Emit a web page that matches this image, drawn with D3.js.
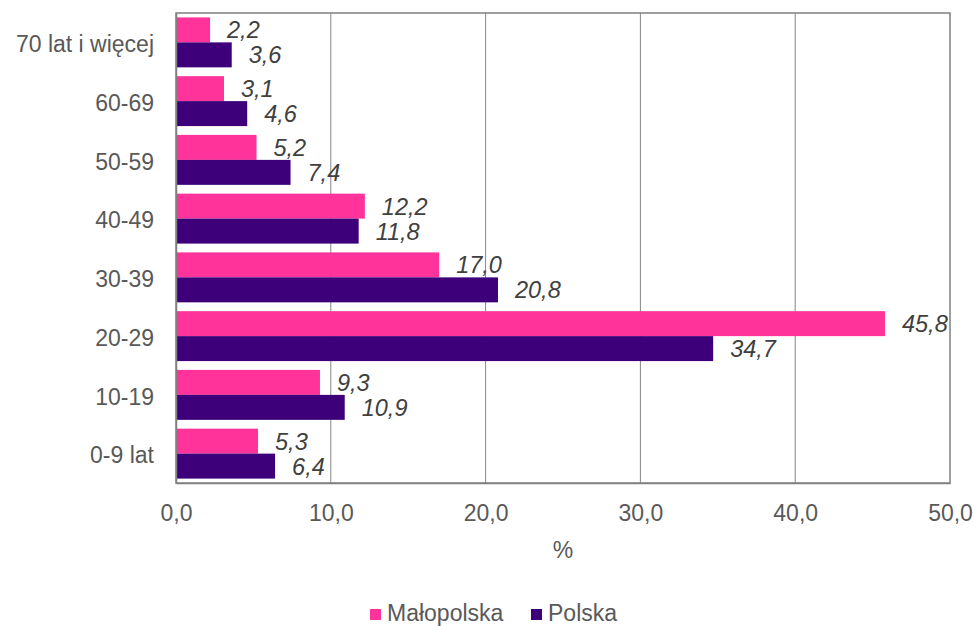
<!DOCTYPE html>
<html><head><meta charset="utf-8">
<script src="https://cdn.jsdelivr.net/npm/d3@7"></script>
<style>body{margin:0;background:#fff;font-family:"Liberation Sans",Arial,sans-serif;}</style>
</head><body>
<script>
const categories = ["70 lat i więcej","60-69","50-59","40-49","30-39","20-29","10-19","0-9 lat"];
const malopolska = [2.2,3.1,5.2,12.2,17.0,45.8,9.3,5.3];
const polska = [3.6,4.6,7.4,11.8,20.8,34.7,10.9,6.4];
const seriesNames = ["Małopolska","Polska"];
const xTicks = [0,10,20,30,40,50];
const colors = ["#ff3399","#3d007a"];

const W=973,H=626;
const m={left:176,right:23,top:13,bottom:143};
const svg=d3.select("body").append("svg").attr("width",W).attr("height",H);
const x=d3.scaleLinear().domain([0,50]).range([m.left,W-m.right]);
const y=d3.scaleBand().domain(categories).range([m.top,H-m.bottom]).paddingInner(0.15).paddingOuter(0.075);
const sub=d3.scaleBand().domain(seriesNames).range([0,y.bandwidth()]);
const fmt=v=>v.toFixed(1).replace(".",",");
const FF="Liberation Sans, Arial, sans-serif";

// grid
svg.append("g").selectAll("line").data(xTicks.slice(1,-1)).join("line")
 .attr("x1",d=>x(d)).attr("x2",d=>x(d)).attr("y1",m.top).attr("y2",H-m.bottom)
 .attr("stroke","#868686").attr("stroke-width",1);
// border
svg.append("rect").attr("x",m.left).attr("y",m.top).attr("width",W-m.right-m.left).attr("height",H-m.bottom-m.top)
 .attr("fill","none").attr("stroke","#808080").attr("stroke-width",1.5);

const data=[malopolska,polska];
data.forEach((arr,si)=>{
  const g=svg.append("g");
  g.selectAll("rect").data(arr).join("rect")
   .attr("x",x(0)).attr("y",(d,i)=>y(categories[i])+sub(seriesNames[si]))
   .attr("width",d=>x(d)-x(0)).attr("height",sub.bandwidth())
   .attr("fill",colors[si]);
  g.selectAll("text").data(arr).join("text")
   .attr("x",d=>x(d)+17).attr("y",(d,i)=>y(categories[i])+sub(seriesNames[si])+sub.bandwidth()/2)
   .attr("dy","0.36em").attr("font-size",23.5).attr("font-style","italic").attr("fill","#404040")
   .attr("font-family",FF).text(fmt);
});

// axes
const xa=svg.append("g").attr("transform",`translate(0,${H-m.bottom})`)
 .call(d3.axisBottom(x).tickValues(xTicks).tickFormat(fmt).tickSize(0).tickPadding(22));
xa.select(".domain").attr("stroke","#808080").attr("stroke-width",1.5);
xa.selectAll("text").attr("font-size",23).attr("fill","#595959").attr("font-family",FF);
const ya=svg.append("g").attr("transform",`translate(${m.left},0)`)
 .call(d3.axisLeft(y).tickSize(0).tickPadding(22));
ya.select(".domain").attr("stroke","#808080").attr("stroke-width",1.5);
ya.selectAll("text").attr("font-size",23).attr("fill","#595959").attr("font-family",FF).attr("dy","0.42em");

svg.append("text").attr("x",(x(0)+x(50))/2).attr("y",558).attr("text-anchor","middle")
 .attr("font-size",23).attr("fill","#595959").attr("font-family",FF).text("%");

// legend
const leg=svg.append("g");
const legX=[370,531];
seriesNames.forEach((n,i)=>{
  leg.append("rect").attr("x",legX[i]).attr("y",609).attr("width",11).attr("height",11).attr("fill",colors[i]);
  leg.append("text").attr("x",legX[i]+17).attr("y",621).attr("font-size",23).attr("fill","#595959").attr("font-family",FF).text(n);
});
</script>
</body></html>
